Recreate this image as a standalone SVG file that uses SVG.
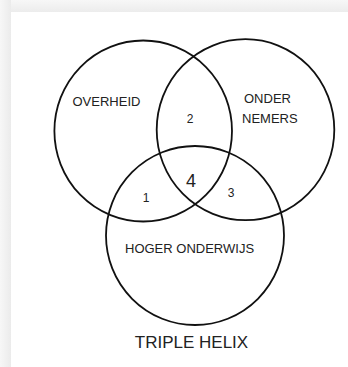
<svg xmlns="http://www.w3.org/2000/svg" width="348" height="367" viewBox="0 0 348 367">
  <defs>
    <linearGradient id="topShade" x1="0" y1="0" x2="0" y2="1">
      <stop offset="0" stop-color="#f7f7f7"/>
      <stop offset="1" stop-color="#ececec"/>
    </linearGradient>
    <linearGradient id="leftShade" x1="0" y1="0" x2="1" y2="0">
      <stop offset="0" stop-color="#f7f7f7"/>
      <stop offset="1" stop-color="#ebebeb"/>
    </linearGradient>
  </defs>
  <style>
    .ring { fill: none; stroke: #111; stroke-width: 1.8; }
    .lbl { font-family: "Liberation Sans", Arial, sans-serif; font-size: 13px; fill: #222; }
    .num { font-family: "Liberation Sans", Arial, sans-serif; font-size: 12px; fill: #222; text-anchor: middle; }
  </style>
  <rect x="0" y="0" width="348" height="367" fill="#f6f6f6"/>
  <rect x="0" y="0" width="348" height="12" fill="url(#topShade)"/>
  <rect x="0" y="0" width="11" height="367" fill="url(#leftShade)"/>
  <rect x="11" y="12" width="337" height="355" fill="#ffffff"/>

  <g id="overheid">
    <ellipse class="ring" cx="143.2" cy="131" rx="88.8" ry="90.5"/>
    <text class="lbl" x="72.5" y="106">OVERHEID</text>
  </g>
  <g id="ondernemers">
    <ellipse class="ring" cx="245.5" cy="129.7" rx="88.8" ry="90.5"/>
    <text class="lbl" x="244" y="103">ONDER</text>
    <text class="lbl" x="242" y="123">NEMERS</text>
  </g>
  <g id="hoger-onderwijs">
    <ellipse class="ring" cx="195" cy="235.5" rx="89" ry="89.5"/>
    <text class="lbl" x="125" y="253">HOGER ONDERWIJS</text>
  </g>
  <g id="overlaps">
    <text class="num" x="190" y="123">2</text>
    <text class="num" x="146" y="202">1</text>
    <text class="num" x="231" y="197">3</text>
    <text class="num" x="191" y="186.5" style="font-size:18px">4</text>
  </g>
  <g id="title">
    <text x="191.5" y="347.5" text-anchor="middle" style="font-family:'Liberation Sans', Arial, sans-serif; font-size:17px; fill:#222">TRIPLE HELIX</text>
  </g>
</svg>
